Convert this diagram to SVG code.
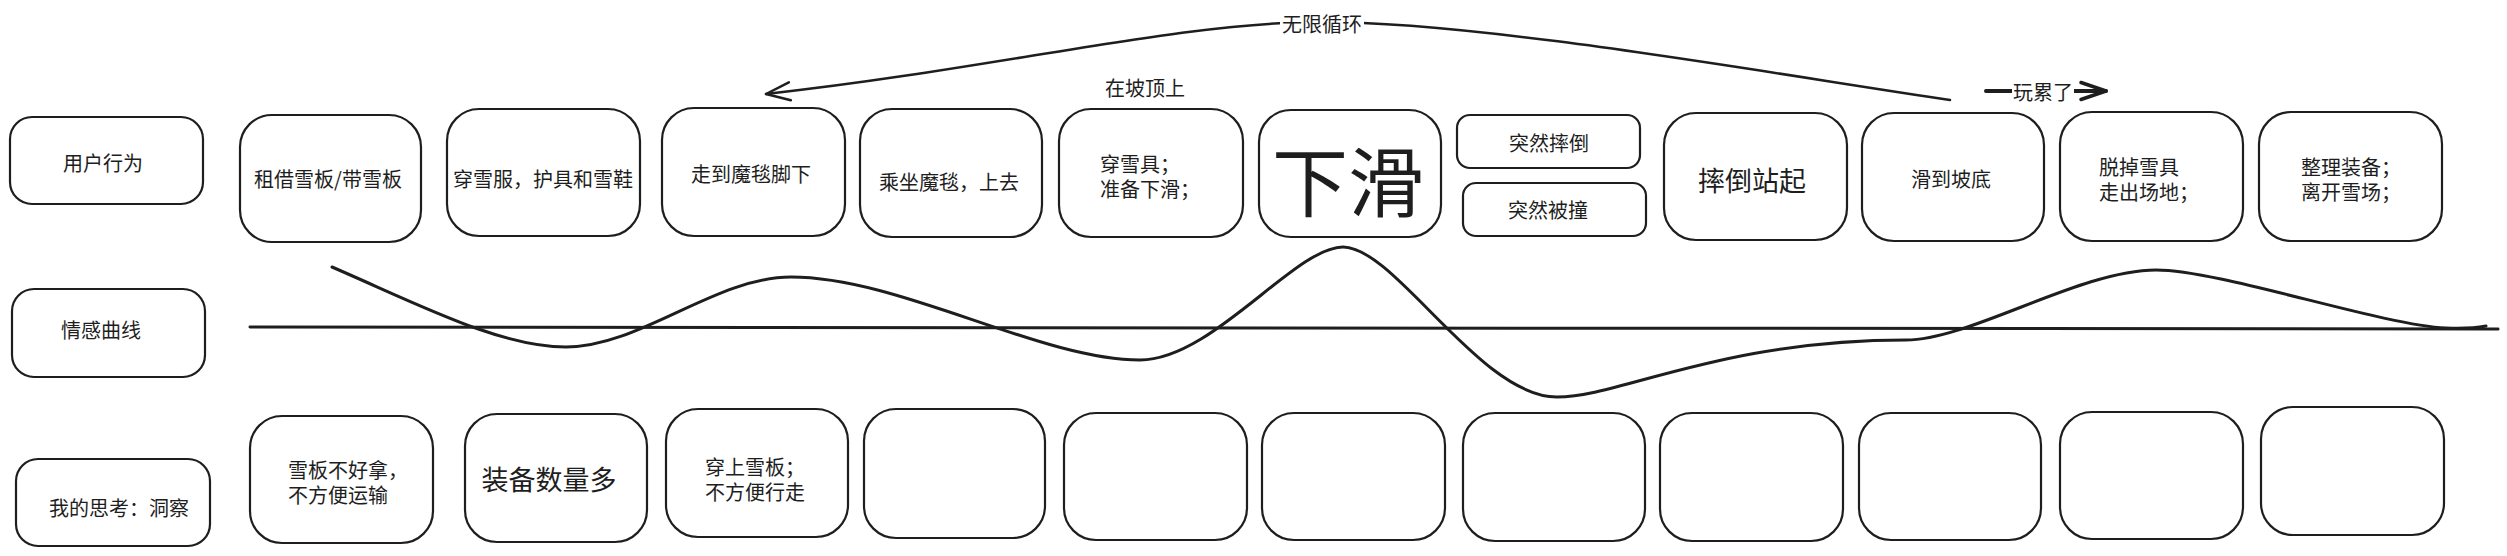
<svg xmlns="http://www.w3.org/2000/svg" width="2507" height="556" viewBox="0 0 2507 556">
<style>
.bx{fill:#ffffff;stroke:#1e1e1e;stroke-width:2.2}
.t{font-family:"Noto Sans CJK SC","Noto Sans",sans-serif;fill:#1e1e1e;font-size:20px;dominant-baseline:central}
.c{text-anchor:middle}
.s{text-anchor:start}
.big{font-size:27px}
.line{fill:none;stroke:#1e1e1e;stroke-linecap:round;stroke-linejoin:round}
</style>
<defs>
<marker id="arr" markerUnits="userSpaceOnUse" markerWidth="40" markerHeight="30" viewBox="-30 -15 40 30" refX="0" refY="0" orient="auto"><path d="M-24,-9 L0,0 L-24,9" fill="none" stroke="#1e1e1e" stroke-width="2.5" stroke-linecap="round" stroke-linejoin="round"/></marker>
<marker id="arr2" markerUnits="userSpaceOnUse" markerWidth="40" markerHeight="30" viewBox="-30 -15 40 30" refX="0" refY="0" orient="auto"><path d="M-25,-8.5 L0,0 L-25,8.5" fill="none" stroke="#1e1e1e" stroke-width="3.5" stroke-linecap="round" stroke-linejoin="round"/></marker>
</defs>
<rect x="0" y="0" width="2507" height="556" fill="#ffffff"/>

<g id="connectors">
<path id="loop" class="line" stroke-width="2.5" d="M1950,100 C1750,70 1480,22 1322,22 C1180,22 1000,68 766,94" marker-end="url(#arr)"/>
<path id="tired" class="line" stroke-width="4" d="M1986,91 L2106,91" marker-end="url(#arr2)"/>
<path id="baseline" class="line" stroke-width="3" d="M250,327 L2498,329"/>
<path id="emotion" class="line" stroke-width="3" d="M332,267 C420,305 500,347 566,347 C640,347 715,277 791,277 C900,277 1040,360 1140,360 C1212,360 1295,247 1343,247 C1395,247 1480,397 1557,397 C1620,397 1720,340 1906,340 C1970,340 2080,270 2156,270 C2220,270 2380,325 2446,328 Q2470,329 2486,326"/>
<rect x="1280" y="10" width="84" height="26" fill="#ffffff"/>
<text class="t c" x="1322" y="23">无限循环</text>
<rect x="2012" y="78" width="62" height="26" fill="#ffffff"/>
<text class="t c" x="2043" y="91">玩累了</text>
</g>

<g id="label-top"><text class="t c" x="1145" y="87">在坡顶上</text></g>

<g id="row-user">
<g id="n-user"><rect class="bx" x="10" y="117" width="193" height="87" rx="22"/><text class="t c" x="103" y="162">用户行为</text></g>
<g id="n-rent"><rect class="bx" x="240" y="115" width="181" height="127" rx="32"/><text class="t c" x="328" y="178">租借雪板/带雪板</text></g>
<g id="n-wear"><rect class="bx" x="447" y="109" width="193" height="127" rx="32"/><text class="t c" x="543" y="178">穿雪服，护具和雪鞋</text></g>
<g id="n-walk"><rect class="bx" x="662" y="108" width="183" height="128" rx="32"/><text class="t c" x="751" y="173">走到魔毯脚下</text></g>
<g id="n-ride"><rect class="bx" x="860" y="109" width="182" height="128" rx="32"/><text class="t c" x="949" y="181">乘坐魔毯，上去</text></g>
<g id="n-gear"><rect class="bx" x="1059" y="109" width="184" height="128" rx="32"/><text class="t s" x="1100" y="163">穿雪具；</text><text class="t s" x="1100" y="188">准备下滑；</text></g>
<g id="n-slide"><rect class="bx" x="1259" y="110" width="182" height="127" rx="32"/><text class="t c" x="1348" y="178" style="font-size:76px">下滑</text></g>
<g id="n-fall"><rect class="bx" x="1457" y="115" width="183" height="53" rx="13"/><text class="t c" x="1549" y="142">突然摔倒</text></g>
<g id="n-hit"><rect class="bx" x="1463" y="183" width="183" height="53" rx="13"/><text class="t c" x="1548" y="209">突然被撞</text></g>
<g id="n-getup"><rect class="bx" x="1664" y="113" width="183" height="127" rx="32"/><text class="t c big" x="1752" y="179">摔倒站起</text></g>
<g id="n-bottom"><rect class="bx" x="1862" y="113" width="182" height="128" rx="32"/><text class="t c" x="1951" y="178">滑到坡底</text></g>
<g id="n-off"><rect class="bx" x="2060" y="112" width="183" height="129" rx="32"/><text class="t s" x="2099" y="166">脱掉雪具</text><text class="t s" x="2099" y="191">走出场地；</text></g>
<g id="n-leave"><rect class="bx" x="2259" y="112" width="183" height="129" rx="32"/><text class="t s" x="2301" y="166">整理装备；</text><text class="t s" x="2301" y="191">离开雪场；</text></g>
</g>

<g id="n-emotion"><rect class="bx" x="12" y="289" width="193" height="88" rx="22"/><text class="t c" x="101" y="329">情感曲线</text></g>

<g id="row-think">
<g id="n-think"><rect class="bx" x="16" y="459" width="194" height="87" rx="22"/><text class="t c" x="119" y="507">我的思考：洞察</text></g>
<g id="t1"><rect class="bx" x="250" y="416" width="183" height="127" rx="32"/><text class="t s" x="288" y="469">雪板不好拿，</text><text class="t s" x="288" y="494">不方便运输</text></g>
<g id="t2"><rect class="bx" x="465" y="414" width="182" height="128" rx="32"/><text class="t c big" x="549" y="478">装备数量多</text></g>
<g id="t3"><rect class="bx" x="666" y="409" width="182" height="128" rx="32"/><text class="t s" x="705" y="466">穿上雪板；</text><text class="t s" x="705" y="491">不方便行走</text></g>
<g id="t4"><rect class="bx" x="864" y="409" width="181" height="129" rx="32"/></g>
<g id="t5"><rect class="bx" x="1064" y="413" width="183" height="127" rx="32"/></g>
<g id="t6"><rect class="bx" x="1262" y="413" width="183" height="127" rx="32"/></g>
<g id="t7"><rect class="bx" x="1463" y="413" width="182" height="128" rx="32"/></g>
<g id="t8"><rect class="bx" x="1660" y="413" width="183" height="128" rx="32"/></g>
<g id="t9"><rect class="bx" x="1859" y="413" width="182" height="127" rx="32"/></g>
<g id="t10"><rect class="bx" x="2060" y="412" width="183" height="127" rx="32"/></g>
<g id="t11"><rect class="bx" x="2261" y="407" width="183" height="128" rx="32"/></g>
</g>
</svg>
